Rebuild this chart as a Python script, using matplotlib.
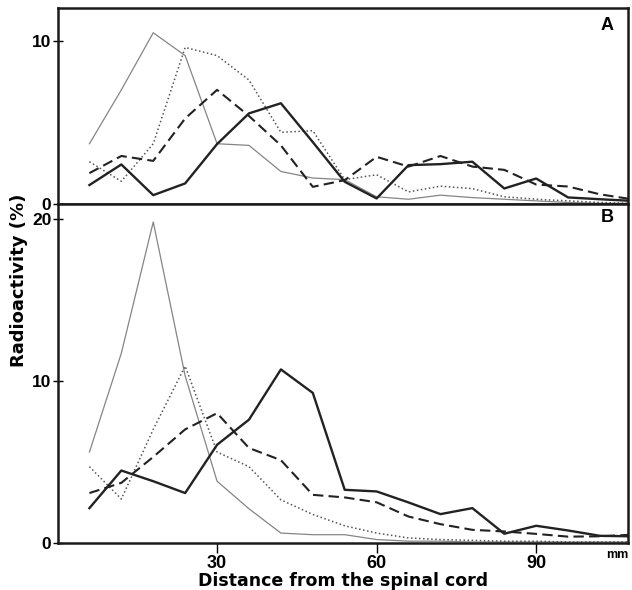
import matplotlib
matplotlib.use('Agg')
import matplotlib.pyplot as plt

plt.rcParams['font.family'] = ['Liberation Sans', 'DejaVu Sans']
plt.rcParams['font.weight'] = 'bold'

# distance from the spinal cord (mm)
dist = [6, 12, 18, 24, 30, 36, 42, 48, 54, 60, 66, 72, 78, 84, 90, 96, 102, 108]

# panel A (radioactivity %)
a_thin = [3.7, 7.0, 10.5, 9.1, 3.7, 3.6, 2.0, 1.6, 1.5, 0.45, 0.3, 0.55, 0.4, 0.3, 0.2, 0.1, 0.05, 0.05]
a_dot = [2.6, 1.4, 3.7, 9.6, 9.1, 7.6, 4.4, 4.5, 1.5, 1.8, 0.75, 1.1, 0.95, 0.45, 0.3, 0.2, 0.1, 0.05]
a_dash = [1.9, 2.95, 2.65, 5.25, 7.0, 5.4, 3.6, 1.06, 1.47, 2.9, 2.3, 2.95, 2.3, 2.1, 1.2, 1.08, 0.6, 0.3]
a_thick = [1.17, 2.43, 0.55, 1.27, 3.68, 5.56, 6.18, 3.8, 1.37, 0.35, 2.39, 2.45, 2.6, 0.96, 1.57, 0.41, 0.3, 0.2]

# panel B
b_thin = [5.6, 11.7, 19.8, 10.3, 3.8, 2.1, 0.6, 0.5, 0.5, 0.2, 0.1, 0.1, 0.05, 0.05, 0.05, 0.05, 0.05, 0.05]
b_dot = [4.7, 2.7, 7.0, 10.9, 5.6, 4.7, 2.65, 1.75, 1.05, 0.6, 0.3, 0.2, 0.15, 0.1, 0.1, 0.05, 0.05, 0.05]
b_dash = [3.07, 3.7, 5.3, 7.0, 8.0, 5.85, 5.1, 2.96, 2.8, 2.5, 1.62, 1.15, 0.8, 0.7, 0.55, 0.38, 0.4, 0.5]
b_thick = [2.14, 4.46, 3.8, 3.07, 6.05, 7.6, 10.7, 9.25, 3.27, 3.17, 2.49, 1.77, 2.14, 0.56, 1.05, 0.76, 0.43, 0.4]

fig = plt.figure(figsize=(6.32, 5.90), dpi=100)
axA = fig.add_axes([0.091, 0.654, 0.903, 0.332])
axB = fig.add_axes([0.091, 0.080, 0.903, 0.574])


def draw(ax, thin, dot, dash, thick):
    ax.plot(dist, thin, color='#858585', lw=0.9)
    ax.plot(dist, dot, color='#555555', lw=1.1, ls=':')
    ax.plot(dist, dash, color='#222222', lw=1.5, ls=(0, (5, 2.5)))
    ax.plot(dist, thick, color='#222222', lw=1.7)
    ax.set_xlim(0, 107.3)
    ax.set_xticks([30, 60, 90])
    for s in ax.spines.values():
        s.set_linewidth(1.8)
        s.set_color('#1a1a1a')
    ax.tick_params(axis='y', direction='inout', length=7, width=1, pad=1, labelsize=12.5)
    ax.tick_params(axis='x', direction='out', length=7, width=1, pad=2, labelsize=13)


draw(axA, a_thin, a_dot, a_dash, a_thick)
axA.set_ylim(0, 12.0)
axA.set_yticks([0, 10])
axA.set_xticklabels([])
axA.text(0.975, 0.91, 'A', transform=axA.transAxes, ha='right', va='center',
         fontsize=13, fontweight='bold')

draw(axB, b_thin, b_dot, b_dash, b_thick)
axB.set_ylim(0, 20.9)
axB.set_yticks([0, 10, 20])
axB.text(0.975, 0.96, 'B', transform=axB.transAxes, ha='right', va='center',
         fontsize=13, fontweight='bold')
axB.text(1.0, -0.035, 'mm', transform=axB.transAxes, ha='right', va='center',
         fontsize=9, fontweight='bold')
axB.set_xlabel('Distance from the spinal cord', fontsize=12.5, fontweight='bold',
               family='DejaVu Sans', labelpad=0)

fig.text(0.030, 0.525, 'Radioactivity (%)', rotation=90, ha='center', va='center',
         fontsize=13, fontweight='bold', family='DejaVu Sans')

plt.savefig('out.png', dpi=100)
